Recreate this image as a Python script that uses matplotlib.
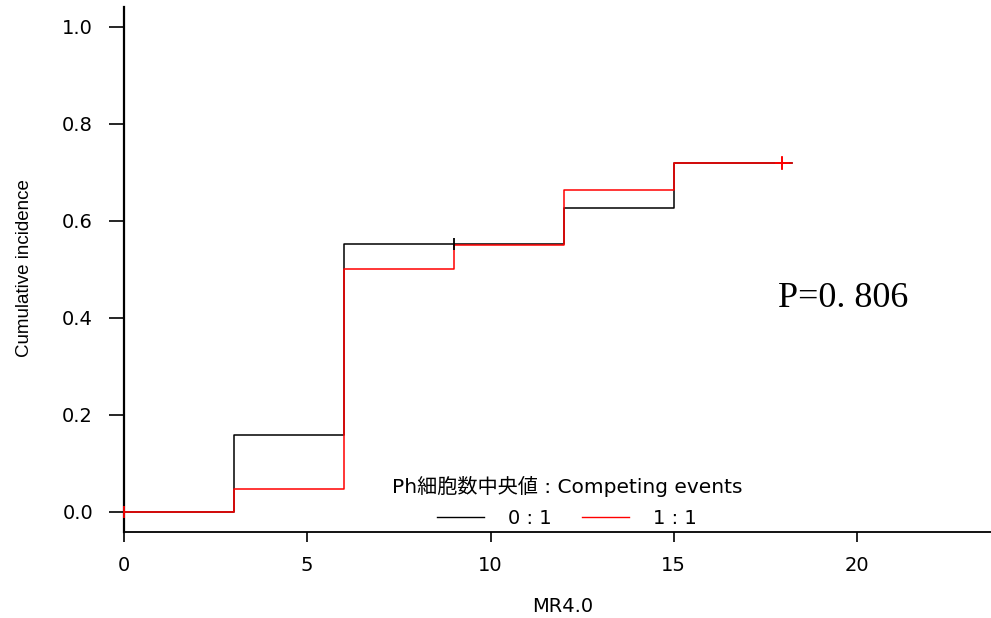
import matplotlib
matplotlib.use("Agg")
import matplotlib.pyplot as plt
from matplotlib.lines import Line2D
import numpy as np

# Cumulative incidence step data (times of jumps and the level after each jump)
times_0 = [0, 3, 6, 12, 15, 18.23]
cif_0 = [0.0, 0.158, 0.552, 0.626, 0.720, 0.720]
censor_0 = [9.0]

times_1 = [0, 3, 6, 9, 12, 15, 18.23]
cif_1 = [0.0, 0.048, 0.500, 0.550, 0.664, 0.720, 0.720]
censor_1 = [0.0, 17.94]

group_labels = ["0 : 1", "1 : 1"]
group_colors = ["black", "red"]
legend_title = "Ph細胞数中央値 : Competing events"
p_text = "P=0. 806"

x_ticks = [0, 5, 10, 15, 20]
y_ticks = [0.0, 0.2, 0.4, 0.6, 0.8, 1.0]

sans = ["DejaVu Sans", "Noto Sans CJK JP"]
plt.rcParams["font.family"] = sans

fig = plt.figure(figsize=(9.91, 6.18), dpi=100)
ax = fig.add_axes([124 / 991, 1 - 531.7 / 618, 1 - 124 / 991, (531.7 - 7) / 618])
ax.set_xlim(0, (991 - 124) / 36.65)
ax.set_ylim(-0.041, 1.041)


def level_at(t, times, vals):
    idx = np.searchsorted(times, t, side="right") - 1
    return vals[max(idx, 0)]


series = [(times_0, cif_0, censor_0), (times_1, cif_1, censor_1)]
for (tt, vv, cc), col in zip(series, group_colors):
    ax.step(tt, vv, where="post", color=col, lw=1.1, zorder=3)
    for c in cc:
        ax.plot([c], [level_at(c, tt, vv)], marker="|", ms=9, mew=1.3,
                color=col, zorder=4, clip_on=False)
# cross-bar on the final censor mark
ax.plot([censor_1[-1]], [level_at(censor_1[-1], times_1, cif_1)], marker="+",
        ms=10, mew=1.2, color=group_colors[1], zorder=4)

for s in ["top", "right"]:
    ax.spines[s].set_visible(False)
ax.spines["left"].set_linewidth(1.6)
ax.spines["bottom"].set_linewidth(1.3)

ax.set_xticks(x_ticks)
ax.set_yticks(y_ticks)
ax.set_yticklabels([f"{v:.1f}" for v in y_ticks])
ax.tick_params(axis="y", direction="out", length=10.8, width=1.2,
               labelsize=14, pad=11.5)
ax.tick_params(axis="x", direction="out", length=7.2, width=1.2,
               labelsize=14, pad=10)

# axis titles
fig.text(25 / 991, 1 - 268 / 618, "Cumulative incidence", rotation=90,
         ha="center", va="center", fontsize=13.5,
         family=["Liberation Sans", "DejaVu Sans"])
fig.text(563 / 991, 1 - 606.5 / 618, "MR4.0", ha="center", va="center",
         fontsize=14)

# P-value annotation
fig.text(778 / 991, 1 - 306.7 / 618, p_text, ha="left", va="baseline",
         fontsize=26, family=["Liberation Serif", "DejaVu Serif"])

fs_px = 14 * 100 / 72
handles = [Line2D([], [], color=c, lw=1.0) for c in group_colors]
leg = fig.legend(handles, group_labels, title=legend_title, ncol=2,
                 loc="center", bbox_to_anchor=(567 / 991, 1 - 502 / 618),
                 frameon=False, fontsize=14, title_fontsize=14.5,
                 handlelength=47 / fs_px, handletextpad=24 / fs_px,
                 columnspacing=31 / fs_px, borderpad=0.0)
leg._legend_box.sep = 9

fig.savefig("out.png", dpi=100)
